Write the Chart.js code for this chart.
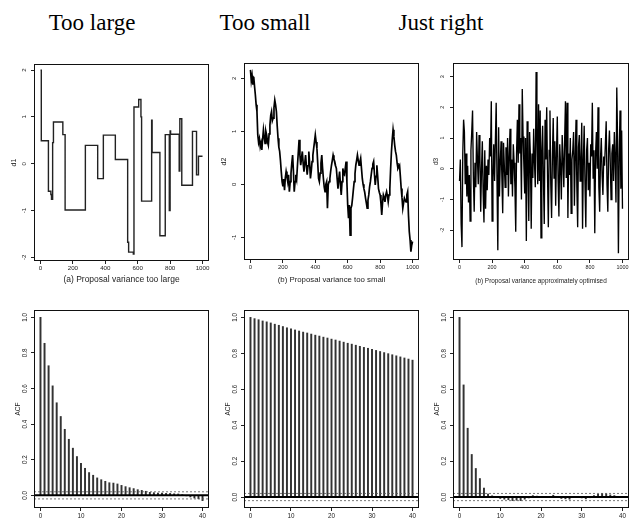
<!DOCTYPE html>
<html><head><meta charset="utf-8">
<script src="https://cdn.jsdelivr.net/npm/chart.js@4.4.0/dist/chart.umd.min.js"></script>
<style>
html,body{margin:0;padding:0;background:#fff;width:634px;height:521px;overflow:hidden;position:relative}
.t{position:absolute;font-family:"Liberation Serif","DejaVu Serif",serif;font-size:23px;line-height:23px;top:11px;width:200px;text-align:center;color:#000}
canvas{position:absolute}
</style></head><body>
<div class="t" id="t0" style="left:-8px"></div>
<div class="t" id="t1" style="left:165px"></div>
<div class="t" id="t2" style="left:341px"></div>
<canvas id="c1"></canvas><canvas id="c2"></canvas><canvas id="c3"></canvas>
<canvas id="c4"></canvas><canvas id="c5"></canvas><canvas id="c6"></canvas>
<script>
// ---------------- data ----------------
const titles = ['Too large', 'Too small', 'Just right'];
const subtitles = ['(a) Proposal variance too large', '(b) Proposal variance too small', '(b) Proposal variance approximately optimised'];
const yTitles = ['d1', 'd2', 'd3'];
const traceXTicks = [0, 200, 400, 600, 800, 1000];
const d1Ticks = [-2, -1, 0, 1, 2];
const d2Ticks = [-1, 0, 1, 2];
const d3Ticks = [-2, -1, 0, 1, 2, 3];
const acfXTicks = [0, 10, 20, 30, 40];
const acfYTicks = [0, 0.2, 0.4, 0.6, 0.8, 1.0];
const acfXTitle = 'Lag';
const acfYTitle = 'ACF';

// chain 1 (step function: value holds from the iteration onwards)
const d1Iter  = [0, 5, 49, 64, 68, 75, 80, 138, 152, 277, 353, 388, 462, 538, 544, 573, 577, 606, 620, 624, 686, 689, 737, 770, 795, 800, 803, 856, 860, 872, 938, 963, 975, 1000];
const d1Value = [2.0, 0.49, -0.59, -0.66, -0.76, 0.45, 0.89, 0.62, -0.99, 0.39, -0.32, 0.61, 0.09, -1.68, -1.89, -1.93, 1.21, 1.37, 1.0, -0.8, 0.93, 0.24, -1.54, 0.62, -1.0, 0.7, 0.63, -0.16, 0.96, -0.46, 0.69, -0.24, 0.16, 0.16];

// iterations at which chains 2 and 3 were read
const traceIter = [0,5,10,15,20,25,30,35,40,45,50,55,60,65,70,75,80,85,90,95,100,105,110,115,120,125,130,135,140,145,150,155,160,165,170,175,180,185,190,195,200,205,210,215,220,225,230,235,240,245,250,255,260,265,270,275,280,285,290,295,300,305,310,315,320,325,330,335,340,345,350,355,360,365,370,375,380,385,390,395,400,405,410,415,420,425,430,435,440,445,450,455,460,465,470,475,480,485,490,495,500,505,510,515,520,525,530,535,540,545,550,555,560,565,570,575,580,585,590,595,600,605,610,615,620,625,630,635,640,645,650,655,660,665,670,675,680,685,690,695,700,705,710,715,720,725,730,735,740,745,750,755,760,765,770,775,780,785,790,795,800,805,810,815,820,825,830,835,840,845,850,855,860,865,870,875,880,885,890,895,900,905,910,915,920,925,930,935,940,945,950,955,960,965,970,975,980,985,990,995,1000];

const d2Value = [2.16,1.95,2.05,1.88,2.03,1.85,1.69,1.50,1.37,0.93,
 0.79,0.86,0.71,0.78,0.65,0.85,1.03,0.90,0.77,1.00,
 0.93,0.80,0.74,0.95,1.12,1.30,1.37,1.20,1.25,1.45,
 1.59,1.50,1.37,1.10,0.87,0.70,0.62,0.45,0.24,0.05,
 -0.04,0.10,-0.11,0.12,0.24,0.15,0.05,0.18,-0.14,0.05,
 0.21,0.40,0.55,0.25,-0.14,0.05,0.18,0.10,0.36,0.60,
 0.84,0.55,0.36,0.50,0.62,0.40,0.24,0.40,0.55,0.35,
 0.18,0.35,0.62,0.40,0.11,0.25,0.43,0.55,0.68,0.80,
 0.93,0.80,0.68,0.40,0.11,0.05,0.21,0.40,0.55,0.30,
 0.11,-0.05,-0.14,0.00,0.05,-0.45,-0.01,0.05,0.11,0.25,
 0.36,0.45,0.55,0.48,0.43,0.35,0.30,0.10,-0.08,0.10,
 0.24,0.00,-0.20,0.05,0.30,0.20,0.18,0.30,0.43,0.05,
 -0.39,-0.64,-0.39,-0.96,-0.45,-0.40,-0.26,-0.10,0.05,0.20,
 0.36,0.45,0.55,0.45,0.36,0.42,0.49,0.30,0.11,0.00,
 -0.08,-0.15,-0.26,-0.35,-0.45,-0.30,-0.20,-0.05,0.05,0.18,
 0.30,0.38,0.43,0.20,-0.01,0.15,0.36,0.15,-0.08,-0.15,
 -0.20,-0.35,-0.58,-0.35,-0.20,-0.25,-0.33,-0.20,-0.14,-0.22,
 -0.33,-0.20,-0.08,0.30,0.62,0.85,1.03,0.90,0.74,0.62,
 0.55,0.40,0.30,0.33,0.36,0.15,-0.08,-0.25,-0.45,-0.35,
 -0.26,-0.30,-0.33,-0.20,-0.14,-0.58,-0.89,-1.05,-1.27,-1.15,
 -1.08];

const d3Value = [-0.4,0.3,-1.8,-2.55,0.5,1.6,1.2,-0.5,0.5,-0.9,
 0.1,-1.1,-0.2,-1.7,0.6,1.2,1.9,-0.3,-1.4,0.2,
 -0.6,1.2,0.3,-0.5,1.1,0.4,-1.4,0.0,0.9,-0.8,
 -1.75,0.6,-1.3,0.1,-0.7,0.3,-0.2,1.0,0.4,2.2,
 -1.7,-0.3,0.8,-0.4,0.9,2.15,-0.4,-2.65,1.35,-0.9,
 0.2,0.9,-0.3,-1.45,0.85,0.1,-0.6,0.7,-0.2,1.0,
 -0.9,0.4,1.3,-0.5,0.3,-0.9,0.8,0.2,-0.6,-2.05,
 0.5,1.6,0.2,2.1,0.5,1.0,-1.0,2.6,1.05,0.1,
 -0.8,1.0,-2.35,1.55,0.2,-1.7,1.2,0.4,-1.95,0.5,
 -0.3,1.3,0.2,-0.6,3.15,1.0,-0.5,2.1,-0.4,1.9,
 -2.25,0.6,1.4,-0.4,-1.8,1.6,0.3,2.0,-0.2,-1.9,
 0.6,1.9,-0.5,-1.6,0.4,1.65,-0.3,0.9,-1.2,0.5,
 1.7,-0.4,-1.55,0.8,0.1,-1.0,1.1,0.3,-0.6,0.9,
 2.2,-0.3,2.15,-1.6,0.5,-0.2,1.0,-1.45,0.3,0.6,
 1.2,-1.2,0.4,1.6,-0.6,-1.9,0.7,1.1,-0.4,0.2,
 1.5,-1.95,0.3,1.4,-0.5,-1.9,0.6,1.0,-0.7,0.2,
 -0.9,0.8,0.4,2.15,-0.3,0.6,-2.1,0.5,1.2,0.0,
 2.0,-0.6,-1.4,0.3,1.0,-0.2,-0.85,0.4,0.1,0.8,
 1.55,-0.5,-1.4,0.6,1.25,0.2,-1.0,0.5,0.8,-0.4,
 1.2,0.3,-1.1,2.65,0.9,-2.75,0.4,1.9,-0.65,1.25,
 -1.3];

const lags = [0,1,2,3,4,5,6,7,8,9,10,11,12,13,14,15,16,17,18,19,20,21,22,23,24,25,26,27,28,29,30,31,32,33,34,35,36,37,38,39,40];
const acf1 = [1.000,0.854,0.728,0.615,0.520,0.443,0.371,0.315,0.265,0.218,0.180,0.152,0.128,0.113,0.098,0.088,0.079,0.071,0.069,0.064,0.056,0.049,0.043,0.038,0.032,0.028,0.023,0.017,0.015,0.013,0.013,0.011,0.011,0.009,0.008,0.004,-0.002,-0.009,-0.015,-0.019,-0.030];
const acf2 = [1.000,0.993,0.987,0.980,0.975,0.969,0.962,0.956,0.949,0.942,0.936,0.930,0.924,0.918,0.913,0.907,0.901,0.896,0.890,0.885,0.879,0.874,0.868,0.862,0.856,0.851,0.845,0.839,0.833,0.828,0.822,0.816,0.810,0.804,0.798,0.792,0.786,0.780,0.774,0.768,0.762];
const acf3 = [1.000,0.624,0.383,0.237,0.159,0.103,0.050,0.017,0.007,-0.003,-0.008,-0.012,-0.015,-0.020,-0.018,-0.020,-0.012,-0.005,0.008,0.005,0.002,0.003,0.004,0.010,0.003,-0.008,-0.010,-0.012,-0.002,0.004,-0.005,-0.010,-0.004,0.008,0.015,0.020,0.018,0.012,0.008,0.004,0.003];
const ciLevel = 0.02;

// ---------------- layout ----------------
const FONT = '"Liberation Sans", Arial, Helvetica, sans-serif';
titles.forEach((t, i) => document.getElementById('t' + i).textContent = t);

const P = {
  c1: {cl:0,   ct:55,  cw:212, ch:240, L:34,  T:64,  R:209, B:261, xmin:-40, xmax:1040, ymin:-2.08, ymax:2.13, tick:6.2, sub:8.5, ytl:7, lab:10, tit:20, xtp:1, sb:10},
  c2: {cl:214, ct:55,  cw:209, ch:240, L:244, T:63,  R:419, B:260, xmin:-40, xmax:1040, ymin:-1.428, ymax:2.289, tick:5.9, sub:7.8, ytl:7, lab:10, tit:20, xtp:1, sb:10},
  c3: {cl:426, ct:55,  cw:208, ch:240, L:453, T:61,  R:629, B:260, xmin:-40, xmax:1040, ymin:-2.97, ymax:3.45, tick:5.4, sub:6.4, ytl:6.5, lab:10, tit:17, xtp:1, sb:10},
  c4: {cl:0,   ct:300, cw:212, ch:235, L:34,  T:310, R:209, B:508, xmin:-1.6, xmax:41.6, ymin:-0.071, ymax:1.041, tick:6.3, sub:7, ytl:6.5, lab:9, tit:15.5, xtp:1, sb:4},
  c5: {cl:214, ct:300, cw:209, ch:235, L:244, T:310, R:419, B:508, xmin:-1.6, xmax:41.6, ymin:-0.061, ymax:1.041, tick:6.3, sub:7, ytl:6.5, lab:9, tit:15.5, xtp:1, sb:4},
  c6: {cl:426, ct:300, cw:208, ch:235, L:453, T:310, R:629, B:508, xmin:-1.6, xmax:41.6, ymin:-0.061, ymax:1.041, tick:6.3, sub:7, ytl:6.5, lab:9, tit:15.5, xtp:1, sb:4}
};

const frame = {
  id: 'frame',
  afterDraw(c) {
    const {ctx, chartArea: a} = c;
    ctx.save();
    ctx.strokeStyle = '#111';
    ctx.lineWidth = 1;
    ctx.strokeRect(Math.round(a.left) + 0.5, Math.round(a.top) + 0.5, Math.round(a.right - a.left) - 1, Math.round(a.bottom - a.top) - 1);
    ctx.restore();
  }
};

function build(id, datasets, xTicks, yTicks, yFmt, xTitle, yTitle) {
  const p = P[id];
  const cv = document.getElementById(id);
  cv.width = p.cw; cv.height = p.ch;
  cv.style.left = p.cl + 'px'; cv.style.top = p.ct + 'px';
  cv.style.width = p.cw + 'px'; cv.style.height = p.ch + 'px';
  const maxLabelW = (() => {
    const ctx = cv.getContext('2d');
    ctx.font = p.tick + 'px ' + FONT;
    return Math.max(...yTicks.map(v => ctx.measureText(yFmt(v)).width));
  })();
  const tl = 3;
  const yPad = Math.max(0, p.lab - tl - maxLabelW / 2);
  const yTitleLH = p.ytl * 1.2;
  return new Chart(cv, {
    type: 'line',
    data: {datasets},
    options: {
      responsive: false, animation: false, devicePixelRatio: 1,
      layout: {padding: {top: p.T - p.ct, right: (p.cl + p.cw) - p.R, left: 0, bottom: 0}},
      plugins: {legend: {display: false}, tooltip: {enabled: false}},
      scales: {
        x: {
          type: 'linear', position: 'bottom', min: p.xmin, max: p.xmax, offset: false,
          afterBuildTicks: s => { s.ticks = xTicks.map(v => ({value: v})); },
          afterFit: s => { s.height = (p.ct + p.ch) - p.B; },
          grid: {display: true, offset: false, drawOnChartArea: false, drawTicks: true, tickLength: tl, color: '#222', lineWidth: 1},
          border: {display: false},
          ticks: {autoSkip: false, maxRotation: 0, minRotation: 0, padding: p.xtp, font: {family: FONT, size: p.tick}, color: '#222', callback: v => String(v)},
          title: {display: true, text: xTitle, color: '#222', font: {family: FONT, size: p.sub}, padding: {top: 0, bottom: p.sb}}
        },
        y: {
          type: 'linear', position: 'left', min: p.ymin, max: p.ymax,
          afterBuildTicks: s => { s.ticks = yTicks.map(v => ({value: v})); },
          afterFit: s => { s.width = p.L - p.cl; },
          grid: {display: true, drawOnChartArea: false, drawTicks: true, tickLength: tl, color: '#222', lineWidth: 1},
          border: {display: false},
          ticks: {autoSkip: false, minRotation: 90, maxRotation: 90, crossAlign: 'center', padding: yPad, font: {family: FONT, size: p.tick}, color: '#222', callback: v => yFmt(v)},
          title: {display: true, text: yTitle, color: '#222', font: {family: FONT, size: p.ytl}, padding: {top: (p.L - p.tit - p.cl) - yTitleLH / 2, bottom: 0}}
        }
      }
    },
    plugins: [frame]
  });
}

const intFmt = v => String(v);
const decFmt = v => v.toFixed(1);
const toXY = (xs, ys) => xs.map((x, i) => ({x, y: ys[i]}));

// trace plots
build('c1', [{type: 'line', data: toXY(d1Iter, d1Value), stepped: 'before', borderColor: '#222', borderWidth: 1.4, pointRadius: 0, tension: 0}],
  traceXTicks, d1Ticks, intFmt, subtitles[0], yTitles[0]);
build('c2', [{type: 'line', data: toXY(traceIter, d2Value), borderColor: '#000', borderWidth: 1.7, pointRadius: 0, tension: 0}],
  traceXTicks, d2Ticks, intFmt, subtitles[1], yTitles[1]);
build('c3', [{type: 'line', data: toXY(traceIter, d3Value), borderColor: '#000', borderWidth: 1.35, pointRadius: 0, tension: 0}],
  traceXTicks, d3Ticks, intFmt, subtitles[2], yTitles[2]);

// ACF plots
function acfSets(id, vals) {
  const p = P[id];
  return [
    {type: 'line', data: [{x: p.xmin, y: 0}, {x: p.xmax, y: 0}], borderColor: '#000', borderWidth: 2, pointRadius: 0, order: 0},
    {type: 'line', data: [{x: p.xmin, y: ciLevel}, {x: p.xmax, y: ciLevel}], borderColor: '#555', borderWidth: 0.8, borderDash: [2, 2], pointRadius: 0, order: 0},
    {type: 'line', data: [{x: p.xmin, y: -ciLevel}, {x: p.xmax, y: -ciLevel}], borderColor: '#555', borderWidth: 0.8, borderDash: [2, 2], pointRadius: 0, order: 0},
    {type: 'bar', data: toXY(lags, vals), backgroundColor: '#333', barThickness: 1.3, order: 1}
  ];
}
build('c4', acfSets('c4', acf1), acfXTicks, acfYTicks, decFmt, acfXTitle, acfYTitle);
build('c5', acfSets('c5', acf2), acfXTicks, acfYTicks, decFmt, acfXTitle, acfYTitle);
build('c6', acfSets('c6', acf3), acfXTicks, acfYTicks, decFmt, acfXTitle, acfYTitle);
</script>
</body></html>
